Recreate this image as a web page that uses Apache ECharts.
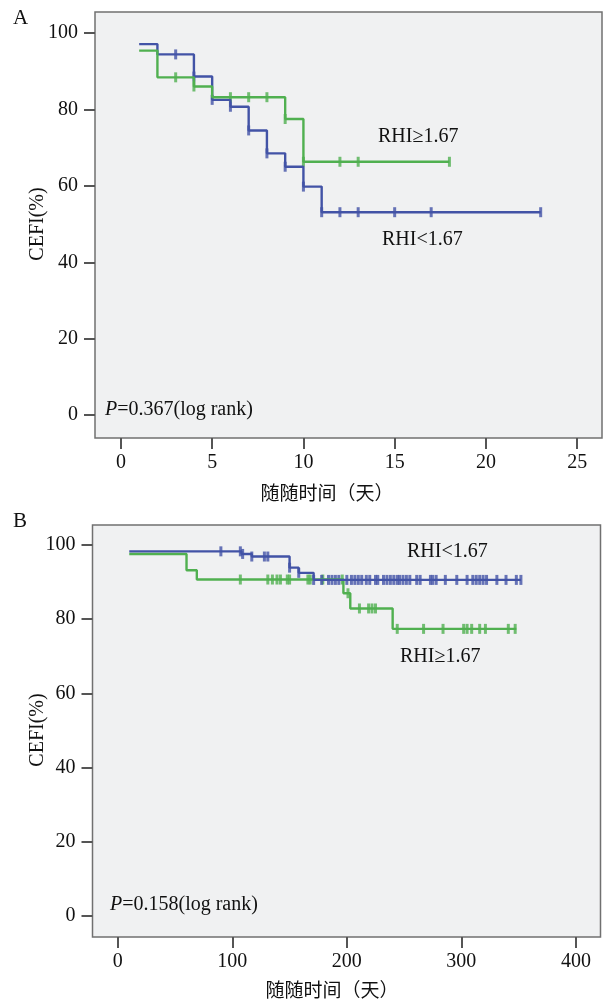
<!DOCTYPE html>
<html><head><meta charset="utf-8">
<script src="https://cdn.jsdelivr.net/npm/echarts@6/dist/echarts.min.js"></script>
<style>html,body{margin:0;padding:0;background:#fff;}#c{width:612px;height:1002px;}</style>
</head><body><div id="c"></div>
<script>
// ---- tick labels ----
const yTicks = [0, 20, 40, 60, 80, 100];
const xTicksA = [0, 5, 10, 15, 20, 25];
const xTicksB = [0, 100, 200, 300, 400];

// ---- Panel A (step curves: time, survival %) ----
const timeA_low = [1, 2, 4, 5, 6, 7, 8, 9, 10, 11, 23];
const survA_low = [97.1, 94.4, 88.6, 82.5, 80.7, 74.5, 68.5, 65.0, 59.8, 53.1, 53.1];
const censA_low = [3, 4, 5, 6, 7, 8, 9, 10, 11, 12, 13, 15, 17, 23];

const timeA_high = [1, 2, 4, 5, 9, 10, 18];
const survA_high = [95.4, 88.4, 86.0, 83.2, 77.5, 66.3, 66.3];
const censA_high = [3, 4, 6, 7, 8, 9, 10, 12, 13, 18];

// ---- Panel B ----
const timeB_low = [10, 108, 117, 150, 158, 171, 352];
const survB_low = [98.3, 97.6, 96.9, 93.9, 92.5, 90.6, 90.6];
const censB_low = [90, 107, 109, 117, 128, 131, 150, 158, 171, 178, 184, 187, 190, 193, 200, 204, 207, 210, 213, 217, 220, 225, 227, 232, 235, 238, 241, 244, 246, 249, 252, 255, 261, 264, 273, 275, 278, 286, 296, 305, 310, 313, 316, 319, 322, 331, 339, 348, 352];

const timeB_high = [10, 60, 69, 197, 203, 240, 348];
const survB_high = [97.6, 93.2, 90.7, 87.0, 82.9, 77.4, 77.4];
const censB_high = [107, 131, 135, 139, 142, 148, 150, 166, 168, 179, 196, 201, 211, 219, 222, 225, 244, 267, 284, 302, 305, 309, 316, 321, 341, 347];

const BLUE = '#4253a6';
const GREEN = '#50b050';
const SERIF = '"Liberation Serif","DejaVu Serif",serif';
const CJK = '"Noto Sans CJK SC",sans-serif';

function pairs(t, s) { return t.map((v, i) => [v, s[i]]); }
function levelAt(t, s, x) { let v = s[0]; for (let i = 0; i < t.length; i++) if (t[i] <= x) v = s[i]; return v; }
function cens(t, s, c) { return c.map(x => [x, levelAt(t, s, x)]); }

function xAxis(idx, min, max, ticks) {
  return {
    type: 'value', gridIndex: idx, min: min, max: max, position: 'bottom',
    axisLine: { show: false, onZero: false },
    axisTick: { show: true, inside: false, length: 11, customValues: ticks, lineStyle: { color: '#555', width: 2 } },
    axisLabel: { customValues: ticks, margin: 15, color: '#111', fontSize: 20, fontFamily: SERIF },
    splitLine: { show: false }
  };
}
function yAxis(idx, min, max) {
  return {
    type: 'value', gridIndex: idx, min: min, max: max, position: 'left',
    axisLine: { show: false, onZero: false },
    axisTick: { show: true, inside: false, length: 11, customValues: yTicks, lineStyle: { color: '#555', width: 2 } },
    axisLabel: { customValues: yTicks, margin: 17, color: '#111', fontSize: 20, fontFamily: SERIF },
    splitLine: { show: false }
  };
}
function line(idx, data, color) {
  return { type: 'line', xAxisIndex: idx, yAxisIndex: idx, data: data, step: 'end', showSymbol: false, symbol: 'none',
    lineStyle: { color: color, width: 2.4 }, silent: true };
}
function marks(idx, data, color) {
  return { type: 'scatter', xAxisIndex: idx, yAxisIndex: idx, data: data, symbol: 'rect', symbolSize: [3, 10],
    itemStyle: { color: color }, silent: true };
}
function txt(x, y, text, opts) {
  return Object.assign({ type: 'text', x: x, y: y, silent: true,
    style: Object.assign({ text: text, fill: '#111', fontSize: 20, fontFamily: SERIF, textVerticalAlign: 'middle' }, opts || {}) });
}
function ptxt(x, y, p) {
  return { type: 'text', x: x, y: y, silent: true,
    style: { text: '{i|P}{n|=' + p + '(log rank)}', fill: '#111', fontSize: 20, fontFamily: SERIF, textVerticalAlign: 'middle',
      rich: { i: { fontStyle: 'italic', fontSize: 20, fontFamily: SERIF, fill: '#111' },
              n: { fontSize: 20, fontFamily: SERIF, fill: '#111' } } } };
}

const chart = echarts.init(document.getElementById('c'), null, { renderer: 'canvas' });
chart.setOption({
  animation: false,
  backgroundColor: '#ffffff',
  grid: [
    { left: 95, top: 12, width: 507, height: 426, show: true, backgroundColor: '#f0f1f2', borderColor: '#707070', borderWidth: 1.5 },
    { left: 92.5, top: 525, width: 508, height: 412, show: true, backgroundColor: '#f0f1f2', borderColor: '#707070', borderWidth: 1.5 }
  ],
  xAxis: [xAxis(0, -1.42, 26.36, xTicksA), xAxis(1, -22.1, 421.5, xTicksB)],
  yAxis: [yAxis(0, -6.0, 105.5), yAxis(1, -5.66, 105.4)],
  series: [
    line(0, pairs(timeA_low, survA_low), BLUE),
    line(0, pairs(timeA_high, survA_high), GREEN),
    marks(0, cens(timeA_low, survA_low, censA_low), BLUE),
    marks(0, cens(timeA_high, survA_high, censA_high), GREEN),
    line(1, pairs(timeB_high, survB_high), GREEN),
    marks(1, cens(timeB_high, survB_high, censB_high), GREEN),
    line(1, pairs(timeB_low, survB_low), BLUE),
    marks(1, cens(timeB_low, survB_low, censB_low), BLUE)
  ],
  graphic: [
    txt(13, 18, 'A', { fontSize: 21 }),
    txt(13, 521, 'B', { fontSize: 21 }),
    txt(378, 137, 'RHI≥1.67'),
    txt(382, 240, 'RHI<1.67'),
    txt(407, 552, 'RHI<1.67'),
    txt(400, 657, 'RHI≥1.67'),
    ptxt(105, 410, '0.367'),
    ptxt(110, 905, '0.158'),
    txt(327, 493, '随随时间（天）', { fontFamily: CJK, textAlign: 'center', fontSize: 19 }),
    txt(332, 990, '随随时间（天）', { fontFamily: CJK, textAlign: 'center', fontSize: 19 }),
    Object.assign(txt(38, 224, 'CEFI(%)', { textAlign: 'center' }), { rotation: Math.PI / 2 }),
    Object.assign(txt(38, 730, 'CEFI(%)', { textAlign: 'center' }), { rotation: Math.PI / 2 })
  ]
});
</script>
</body></html>
